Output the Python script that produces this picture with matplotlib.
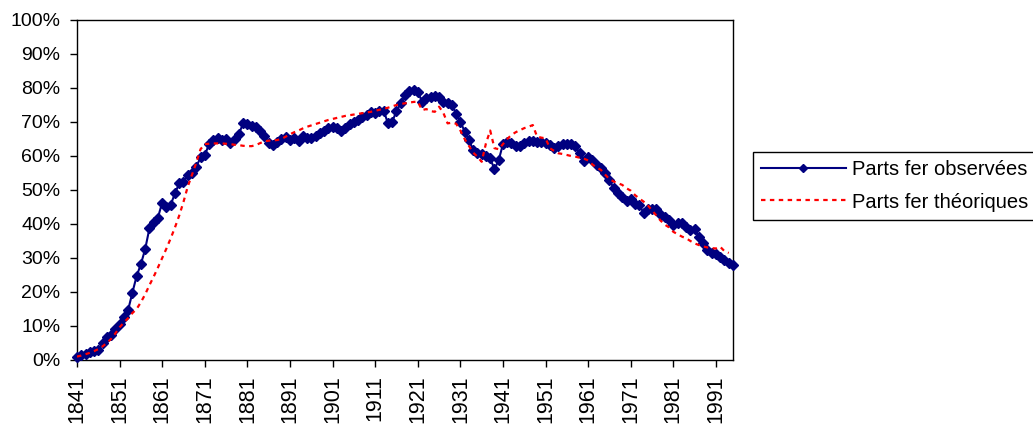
import numpy as np
import matplotlib
matplotlib.use("Agg")
import matplotlib.pyplot as plt
from matplotlib.ticker import PercentFormatter

plt.rcParams['font.family'] = ['Liberation Sans', 'DejaVu Sans']

#_____________________data (share of iron, in %)
years_obs = list(range(1841, 1996))
parts_observees = [
    1.0, 1.4, 1.9, 2.3, 2.7, 2.9, 4.9, 6.7, 7.4, 9.0,            # 1841-1850
    10.6, 12.7, 14.7, 19.8, 24.7, 28.2, 32.6, 38.7, 40.7, 41.9,   # 1851-1860
    46.3, 44.9, 45.7, 49.0, 52.0, 52.5, 54.5, 55.0, 56.8, 59.6,   # 1861-1870
    60.2, 63.5, 64.8, 65.2, 64.6, 65.1, 63.8, 65.0, 66.5, 69.6,   # 1871-1880
    69.4, 68.9, 68.4, 67.3, 65.8, 63.8, 63.3, 64.0, 65.1, 65.7,   # 1881-1890
    64.8, 65.2, 64.3, 65.8, 65.2, 65.2, 66.0, 66.8, 67.5, 68.2,   # 1891-1900
    68.6, 68.1, 67.3, 68.3, 69.3, 69.9, 70.6, 71.4, 72.2, 73.0,   # 1901-1910
    72.6, 73.2, 73.3, 69.6, 70.1, 73.2, 75.5, 77.9, 79.2, 79.4,   # 1911-1920
    78.9, 76.0, 77.0, 77.4, 77.6, 77.4, 76.0, 75.5, 75.0, 72.5,   # 1921-1930
    70.1, 67.2, 64.7, 61.8, 61.0, 60.5, 60.0, 59.3, 56.1, 58.8,   # 1931-1940
    63.5, 64.2, 63.7, 62.8, 63.0, 63.8, 64.5, 64.3, 64.2, 64.0,   # 1941-1950
    63.7, 63.2, 62.4, 63.0, 63.4, 63.5, 63.4, 62.9, 60.8, 58.5,   # 1951-1960
    59.8, 58.8, 57.5, 56.5, 55.0, 52.9, 50.5, 49.2, 48.0, 46.9,   # 1961-1970
    47.5, 45.9, 45.6, 43.3, 44.3, 44.5, 44.3, 42.6, 42.0, 41.2,   # 1971-1980
    39.7, 40.2, 40.2, 39.0, 38.2, 38.4, 36.1, 34.5, 32.5, 31.6,   # 1981-1990
    31.2, 30.4, 29.4, 28.4, 27.9,                                 # 1991-1995
]

years_theo = list(range(1841, 1995))
parts_theoriques = [
    1.0, 1.3, 1.7, 2.1, 2.6, 3.2, 4.0, 5.0, 6.2, 7.8,            # 1841-1850
    9.6, 11.0, 12.3, 13.8, 15.0, 17.0, 19.3, 22.0, 24.5, 27.2,    # 1851-1860
    30.0, 32.8, 35.8, 39.0, 42.5, 46.5, 51.0, 54.5, 58.0, 62.0,   # 1861-1870
    63.5, 63.6, 63.7, 63.7, 63.7, 63.6, 63.5, 63.3, 63.2, 63.0,   # 1871-1880
    62.9, 62.9, 63.2, 63.8, 64.3, 64.5, 64.6, 64.7, 65.0, 65.7,   # 1881-1890
    66.4, 67.0, 67.5, 68.1, 68.6, 69.0, 69.4, 69.8, 70.2, 70.6,   # 1891-1900
    70.9, 71.2, 71.5, 71.8, 72.0, 72.2, 72.4, 72.6, 72.8, 73.0,   # 1901-1910
    73.3, 73.6, 73.9, 74.2, 74.6, 75.0, 75.3, 75.5, 75.7, 75.9,   # 1911-1920
    76.0, 73.5, 73.8, 73.2, 73.0, 74.5, 72.7, 69.6, 69.8, 69.5,   # 1921-1930
    67.5, 65.0, 63.0, 61.0, 59.8, 58.3, 63.7, 67.5, 62.3, 62.0,   # 1931-1940
    63.5, 65.0, 66.2, 67.0, 67.6, 68.2, 68.6, 69.1, 65.7, 65.4,   # 1941-1950
    65.2, 62.3, 61.5, 60.8, 60.6, 60.3, 60.0, 59.8, 59.5, 59.2,   # 1951-1960
    58.7, 57.5, 56.6, 55.9, 54.5, 53.2, 52.5, 52.0, 51.5, 50.5,   # 1961-1970
    49.8, 48.5, 47.5, 46.6, 45.5, 44.0, 42.5, 41.0, 39.8, 39.0,   # 1971-1980
    37.7, 37.0, 36.3, 35.8, 35.0, 34.3, 33.8, 33.4, 33.1, 32.9,   # 1981-1990
    32.8, 33.3, 32.0, 31.5,                                       # 1991-1994
]

tick_years = list(range(1841, 1992, 10))

#_____________________figure
fig = plt.figure(figsize=(10.33, 4.24), dpi=100)
ax = fig.add_axes([77 / 1033, (424 - 360) / 424, 656 / 1033, 340 / 424])

ax.plot(years_obs, parts_observees, color='#000080', linewidth=1.5,
        marker='D', markersize=5, clip_on=False, zorder=3,
        label='Parts fer observées')
ax.plot(years_theo, parts_theoriques, color='#FF0000', linewidth=1.6,
        linestyle=(0, (2, 2)), zorder=4, label='Parts fer théoriques')

ax.set_xlim(1841, 1995)
ax.set_ylim(0, 100)
ax.set_yticks(range(0, 101, 10))
ax.yaxis.set_major_formatter(PercentFormatter(decimals=0))
ax.set_xticks(tick_years)
ax.set_xticklabels([str(y) for y in tick_years], rotation=90)

ax.tick_params(axis='both', direction='out', length=5, width=1,
               colors='black')
ax.tick_params(axis='y', pad=7, labelsize=14)
ax.tick_params(axis='x', pad=6, labelsize=15.5)
for s in ax.spines.values():
    s.set_linewidth(1)
    s.set_color('black')

fig.legend(loc='center left', bbox_to_anchor=(753 / 1033, (424 - 186) / 424),
           borderaxespad=0, fontsize=14.5, frameon=True, fancybox=False,
           edgecolor='black', framealpha=1, numpoints=1, handlelength=4.2,
           borderpad=0.4, labelspacing=0.65, handletextpad=0.3,
           markerscale=0.8)

fig.savefig('out.png', dpi=100)
